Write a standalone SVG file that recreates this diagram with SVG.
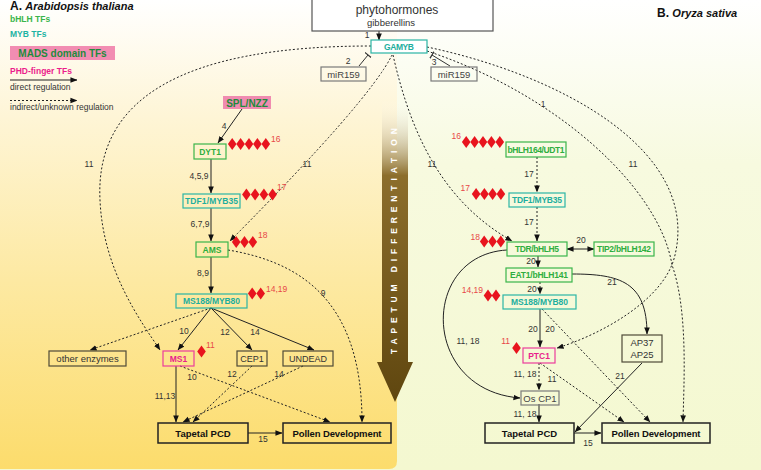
<svg xmlns="http://www.w3.org/2000/svg" width="761" height="470" viewBox="0 0 761 470">
<defs>
<linearGradient id="bgR" x1="0" y1="0" x2="0" y2="1">
<stop offset="0" stop-color="#FFFFFF"/><stop offset="0.35" stop-color="#F7FADF"/><stop offset="1" stop-color="#F4F8D0"/>
</linearGradient>
<linearGradient id="bgL" x1="0" y1="0" x2="0" y2="1">
<stop offset="0" stop-color="#FFFFFF"/><stop offset="0.25" stop-color="#FEF5D6"/><stop offset="0.6" stop-color="#FDE9A2"/><stop offset="1" stop-color="#FCDC6C"/>
</linearGradient>
<linearGradient id="tapG" gradientUnits="userSpaceOnUse" x1="0" y1="100" x2="0" y2="402">
<stop offset="0" stop-color="#FFFFFF" stop-opacity="0"/><stop offset="0.25" stop-color="#8C6E2C" stop-opacity="1"/><stop offset="1" stop-color="#5F460F"/>
</linearGradient>
<marker id="ah" viewBox="0 0 8 8" refX="7.5" refY="4" markerWidth="7" markerHeight="7" markerUnits="userSpaceOnUse" orient="auto-start-reverse">
<path d="M0,0.8 L8,4 L0,7.2 Z" fill="#111"/>
</marker>
<marker id="tb" viewBox="0 0 4 8" refX="1" refY="4" markerWidth="4" markerHeight="8" markerUnits="userSpaceOnUse" orient="auto">
<path d="M1,0 L1,8" stroke="#333" stroke-width="1.2"/>
</marker>
<path id="dia" d="M0,-6 L4.3,0 L0,6 L-4.3,0 Z" fill="#E8141E"/>
<style>
text{font-family:"Liberation Sans",Arial,sans-serif}
.bx{fill:none;stroke-width:1.2}
.g{stroke:#3AB54A}.gt{fill:#2EAE3E;font-weight:bold;font-size:8.5px;text-anchor:middle}
.t{stroke:#2BB5A5}.tt{fill:#1DAE9E;font-weight:bold;font-size:8.5px;text-anchor:middle}
.p{stroke:#EC3C9C}.pt{fill:#E91E8C;font-weight:bold;font-size:8.5px;text-anchor:middle}
.k{stroke:#4F4A38}.kt{fill:#333;font-size:9.5px;text-anchor:middle}
.gr{stroke:#7A7A7A}.grt{fill:#444;font-size:9.5px;text-anchor:middle}
.bb{stroke:#222;stroke-width:1.5;fill:none}.bbt{fill:#111;font-weight:bold;font-size:9.5px;text-anchor:middle}
.lb{fill:#333;font-size:8.5px;text-anchor:middle}
.rl{fill:#E84848;font-size:8.5px}
.s{fill:none;stroke:#222;stroke-width:1;marker-end:url(#ah)}
.d{fill:none;stroke:#222;stroke-width:1;stroke-dasharray:2,2;marker-end:url(#ah)}
</style>
</defs>

<rect x="0" y="0" width="761" height="470" fill="url(#bgR)"/>
<path d="M0,0 H397 V461 Q397,469 389,469 H0 Z" fill="url(#bgL)"/>

<g id="legend">
<text x="10" y="10" font-size="12" font-weight="bold" fill="#111">A. <tspan font-style="italic" font-size="11">Arabidopsis thaliana</tspan></text>
<text x="10" y="22" font-size="8.5" font-weight="bold" fill="#3AB54A">bHLH TFs</text>
<text x="10" y="37" font-size="8.5" font-weight="bold" fill="#1DB3A3">MYB TFs</text>
<rect x="10" y="46" width="105" height="14" fill="#F28DB2"/>
<text x="62.5" y="57" font-size="10" font-weight="bold" fill="#1E8B3C" text-anchor="middle">MADS domain TFs</text>
<text x="10" y="74" font-size="8.5" font-weight="bold" fill="#EC1C8C">PHD-finger TFs</text>
<line x1="10" y1="80" x2="77" y2="80" class="s"/>
<text x="10" y="90" font-size="8.5" fill="#333">direct regulation</text>
<line x1="10" y1="100.5" x2="77" y2="100.5" class="d"/>
<text x="10" y="110" font-size="8.5" fill="#333">indirect/unknown regulation</text>
<text x="657" y="17" font-size="12" font-weight="bold" fill="#111">B. <tspan font-style="italic" font-size="11">Oryza sativa</tspan></text>
</g>

<g id="tapetum-arrow">
<path d="M382,100 H408 V362 H413 L395,402 L377,362 H382 Z" fill="url(#tapG)"/>
<text transform="translate(397,241) rotate(-90)" text-anchor="middle" font-size="8.5" font-weight="bold" fill="#FFFFFF" textLength="226" lengthAdjust="spacing">TAPETUM  DIFFERENTIATION</text>
</g>

<g id="connectors">
<line x1="379" y1="31" x2="379" y2="40" class="s"/>
<line x1="359" y1="66" x2="368" y2="55" stroke="#333" stroke-width="1" marker-end="url(#tb)"/>
<line x1="450" y1="66" x2="432" y2="55" stroke="#333" stroke-width="1" marker-end="url(#tb)"/>
<line x1="242" y1="109" x2="218" y2="143" class="s"/>
<line x1="211" y1="159" x2="211" y2="193" class="s"/>
<line x1="211" y1="208" x2="211" y2="241" class="s"/>
<line x1="211" y1="257" x2="211" y2="293" class="s"/>
<line x1="211" y1="308" x2="178" y2="350" class="s"/>
<line x1="211" y1="308" x2="252" y2="350" class="s"/>
<line x1="211" y1="308" x2="314" y2="350" class="s"/>
<line x1="211" y1="308" x2="90" y2="350" class="d"/>
<line x1="176" y1="366" x2="176" y2="422" class="s"/>
<line x1="180" y1="366" x2="330" y2="422" class="d"/>
<line x1="252" y1="366" x2="193" y2="422" class="d"/>
<line x1="303" y1="366" x2="183" y2="422" class="d"/>
<line x1="248" y1="433" x2="282" y2="433" class="s"/>
<path d="M228,250 C300,262 362,300 362,422" class="d"/>
<path d="M371,46 C180,46 95,100 100,200 C103,270 140,320 160,350" class="d"/>
<path d="M392,55 Q370,100 230,241" class="d"/>

<path d="M393,55 C410,130 440,200 512,241" class="d"/>
<line x1="537" y1="157" x2="537" y2="192" class="d"/>
<line x1="537" y1="207" x2="537" y2="241" class="d"/>
<line x1="567" y1="249" x2="594" y2="249" class="s" marker-start="url(#ah)"/>
<line x1="538" y1="256" x2="538" y2="267" class="s"/>
<line x1="540" y1="282" x2="540" y2="294" class="d"/>
<line x1="540" y1="309" x2="540" y2="347" class="s"/>
<line x1="542" y1="309" x2="650" y2="422" class="d"/>
<line x1="539" y1="363" x2="539" y2="390" class="d"/>
<line x1="540" y1="363" x2="624" y2="422" class="d"/>
<line x1="539" y1="404" x2="539" y2="422" class="s"/>
<line x1="574" y1="433" x2="601" y2="433" class="s"/>
<line x1="642" y1="363" x2="575" y2="432" class="s"/>
<path d="M572,274 C620,274 647,282 647,334" class="s"/>
<path d="M507,250 C420,255 420,390 520,398" class="s"/>
<path d="M427,47 C560,75 700,150 675,255 C665,300 600,335 557,348" class="d"/>
<path d="M427,51 C560,95 660,190 672,265 C688,310 684,380 683,422" class="d"/>
</g>

<g id="labels">
<text class="lb" x="367" y="38">1</text>
<text class="lb" x="348" y="64">2</text>
<text class="lb" x="434" y="65">3</text>
<text class="lb" x="224" y="129">4</text>
<text class="lb" x="199" y="179">4,5,9</text>
<text class="lb" x="200" y="227">6,7,9</text>
<text class="lb" x="203" y="276">8,9</text>
<text class="lb" x="89" y="167">11</text>
<text class="lb" x="307" y="167">11</text>
<text class="lb" x="184" y="334">10</text>
<text class="lb" x="225" y="335">12</text>
<text class="lb" x="255" y="335">14</text>
<text class="lb" x="323" y="296">9</text>
<text class="lb" x="192" y="380">10</text>
<text class="lb" x="232" y="377">12</text>
<text class="lb" x="279" y="377">14</text>
<text class="lb" x="165" y="399">11,13</text>
<text class="lb" x="263" y="442">15</text>
<text class="lb" x="432" y="167">11</text>
<text class="lb" x="543" y="107">1</text>
<text class="lb" x="633" y="167">11</text>
<text class="lb" x="529" y="177">17</text>
<text class="lb" x="529" y="225">17</text>
<text class="lb" x="581" y="243">20</text>
<text class="lb" x="531" y="264">20</text>
<text class="lb" x="532" y="292">20</text>
<text class="lb" x="612" y="285">21</text>
<text class="lb" x="533" y="332">20</text>
<text class="lb" x="550" y="332">20</text>
<text class="lb" x="468" y="344">11, 18</text>
<text class="lb" x="525" y="377">11, 18</text>
<text class="lb" x="552" y="382">11</text>
<text class="lb" x="620" y="379">21</text>
<text class="lb" x="525" y="417">11, 18</text>
<text class="lb" x="588" y="446">15</text>
</g>

<g id="diamonds">
<use href="#dia" x="232.2" y="144"/><use href="#dia" x="240.6" y="144"/><use href="#dia" x="249" y="144"/><use href="#dia" x="257.4" y="144"/><use href="#dia" x="265.8" y="144"/>
<text class="rl" x="271" y="142">16</text>
<use href="#dia" x="246.4" y="194.5"/><use href="#dia" x="255.1" y="194.5"/><use href="#dia" x="263.9" y="194.5"/><use href="#dia" x="272.6" y="194.5"/>
<text class="rl" x="277" y="190">17</text>
<use href="#dia" x="236.2" y="242"/><use href="#dia" x="244.5" y="242"/><use href="#dia" x="252.8" y="242"/>
<text class="rl" x="258" y="238">18</text>
<use href="#dia" x="252.2" y="293.5"/><use href="#dia" x="260.7" y="293.5"/>
<text class="rl" x="266" y="292">14,19</text>
<use href="#dia" x="201.5" y="351.5"/>
<text class="rl" x="206" y="348">11</text>
<use href="#dia" x="466.2" y="142"/><use href="#dia" x="474.6" y="142"/><use href="#dia" x="483" y="142"/><use href="#dia" x="491.4" y="142"/><use href="#dia" x="499.8" y="142"/>
<text class="rl" x="461" y="139" text-anchor="end">16</text>
<use href="#dia" x="476.1" y="194"/><use href="#dia" x="484.4" y="194"/><use href="#dia" x="492.6" y="194"/><use href="#dia" x="500.9" y="194"/>
<text class="rl" x="470" y="191" text-anchor="end">17</text>
<use href="#dia" x="484.2" y="241.5"/><use href="#dia" x="492.5" y="241.5"/><use href="#dia" x="500.8" y="241.5"/>
<text class="rl" x="480" y="240" text-anchor="end">18</text>
<use href="#dia" x="488" y="295.5"/><use href="#dia" x="496" y="295.5"/>
<text class="rl" x="483" y="293" text-anchor="end">14,19</text>
<use href="#dia" x="516.5" y="348"/>
<text class="rl" x="510" y="344" text-anchor="end">11</text>
</g>

<g id="phytohormones"><rect x="312" y="-1" width="181" height="32" fill="#FFFFFF" stroke="#555" stroke-width="1.2"/>
<text x="397" y="14" font-size="12" fill="#333" text-anchor="middle">phytohormones</text>
<text x="391" y="26" font-size="9.5" fill="#333" text-anchor="middle">gibberellins</text></g>
<g id="gamyb"><rect class="bx t" x="371" y="40" width="56" height="13" style="fill:#FFFFFF"/><text class="tt" x="399" y="49.5" textLength="30">GAMYB</text></g>
<g id="mir159-a"><rect class="bx gr" x="321" y="67" width="45" height="14"/><text class="grt" x="343.5" y="77.5">miR159</text></g>
<g id="mir159-b"><rect class="bx gr" x="431" y="67" width="46" height="14"/><text class="grt" x="454" y="77.5">miR159</text></g>

<g id="spl-nzz"><rect x="223" y="96" width="48" height="13" fill="#F08CB0"/><text x="247" y="106.5" font-size="10" font-weight="bold" fill="#1E8B3C" text-anchor="middle">SPL/NZZ</text></g>
<g id="dyt1"><rect class="bx g" x="194" y="144" width="32" height="15"/><text class="gt" x="210" y="154.5">DYT1</text></g>
<g id="tdf1-a"><rect class="bx t" x="183" y="194" width="57" height="14"/><text class="tt" x="211.5" y="204" textLength="53">TDF1/MYB35</text></g>
<g id="ams"><rect class="bx g" x="196" y="242" width="32" height="15"/><text class="gt" x="212" y="252.5">AMS</text></g>
<g id="ms188-a"><rect class="bx t" x="176" y="294" width="71" height="14"/><text class="tt" x="211.5" y="304" textLength="57">MS188/MYB80</text></g>
<g id="other-enzymes"><rect class="bx k" x="49" y="351" width="77" height="15"/><text class="kt" x="87.5" y="362">other enzymes</text></g>
<g id="ms1"><rect class="bx p" x="163" y="351" width="31" height="15"/><text class="pt" x="178.5" y="361.5">MS1</text></g>
<g id="cep1"><rect class="bx k" x="237" y="351" width="30" height="15"/><text class="kt" x="252" y="362" style="font-size:9px">CEP1</text></g>
<g id="undead"><rect class="bx k" x="283" y="351" width="50" height="15"/><text class="kt" x="308" y="362" style="font-size:9px">UNDEAD</text></g>
<g id="tapetal-pcd-a"><rect class="bb" x="158" y="423" width="90" height="20"/><text class="bbt" x="203" y="436.5">Tapetal PCD</text></g>
<g id="pollen-dev-a"><rect class="bb" x="283" y="423" width="108" height="20"/><text class="bbt" x="337" y="436.5" textLength="89">Pollen Development</text></g>

<g id="udt1"><rect class="bx g" x="506" y="142" width="60" height="15"/><text class="gt" x="536" y="152.5" textLength="57">bHLH164/UDT1</text></g>
<g id="tdf1-b"><rect class="bx t" x="509" y="193" width="56" height="14"/><text class="tt" x="537" y="203" textLength="50">TDF1/MYB35</text></g>
<g id="tdr"><rect class="bx g" x="507" y="242" width="60" height="14"/><text class="gt" x="537" y="252" textLength="44">TDR/bHLH5</text></g>
<g id="tip2"><rect class="bx g" x="594" y="242" width="60" height="14"/><text class="gt" x="624" y="252" textLength="54">TIP2/bHLH142</text></g>
<g id="eat1"><rect class="bx g" x="506" y="268" width="66" height="14"/><text class="gt" x="539" y="278" textLength="58">EAT1/bHLH141</text></g>
<g id="ms188-b"><rect class="bx t" x="503" y="295" width="73" height="14"/><text class="tt" x="539.5" y="305" textLength="57">MS188/MYB80</text></g>
<g id="ptc1"><rect class="bx p" x="523" y="348" width="32" height="15"/><text class="pt" x="539" y="358.5">PTC1</text></g>
<g id="oscp1"><rect class="bx gr" x="521" y="391" width="38" height="14"/><text class="grt" x="540" y="401.5">Os CP1</text></g>
<g id="ap37"><rect class="bx k" x="622" y="335" width="40" height="27"/><text class="kt" x="642" y="346">AP37</text><text class="kt" x="642" y="357.5">AP25</text></g>
<g id="tapetal-pcd-b"><rect class="bb" x="485" y="423" width="89" height="20"/><text class="bbt" x="529.5" y="436.5">Tapetal PCD</text></g>
<g id="pollen-dev-b"><rect class="bb" x="602" y="423" width="108" height="20"/><text class="bbt" x="656" y="436.5" textLength="89">Pollen Development</text></g>
</svg>
